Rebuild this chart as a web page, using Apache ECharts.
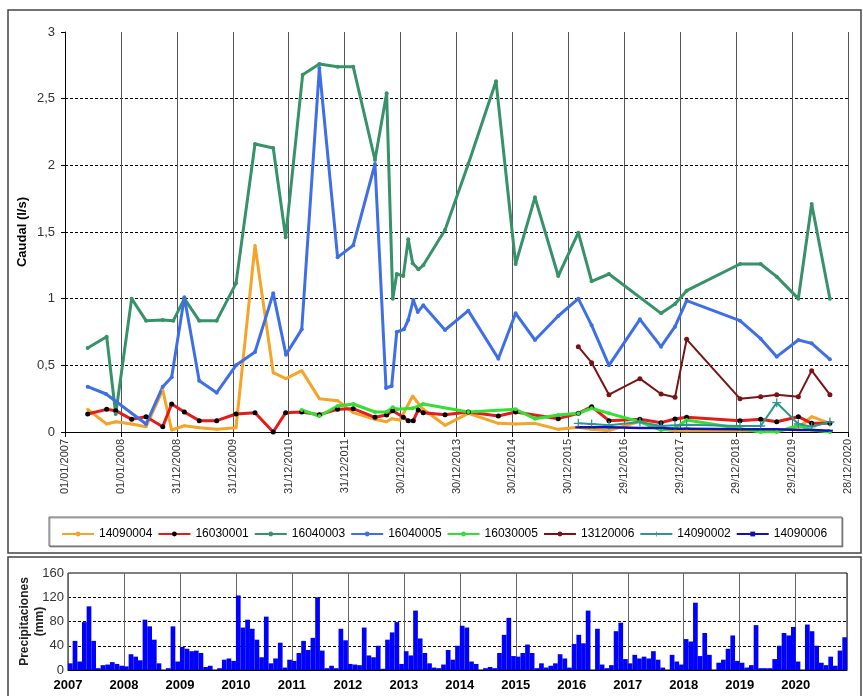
<!DOCTYPE html>
<html><head><meta charset="utf-8">
<script src="https://cdn.jsdelivr.net/npm/echarts@6/dist/echarts.min.js"></script>
<style>html,body{margin:0;padding:0;background:#fff}#c{width:863px;height:696px}</style>
</head><body><div id="c"></div>
<script>
// ---- Caudal (l/s) series: sampling dates and values ----
const d14090004 = ['2007-05-29','2007-09-30','2007-11-28','2008-03-11','2008-06-13','2008-09-30','2008-11-27','2009-02-18','2009-05-26','2009-09-17','2010-01-21','2010-05-25','2010-09-21','2010-12-13','2011-03-26','2011-07-19','2011-11-15','2012-02-25','2012-07-16','2012-09-30','2012-11-02','2012-12-26','2013-03-19','2013-04-14','2013-05-27','2013-10-16','2014-03-17','2014-09-29','2015-01-20','2015-05-26','2015-10-25','2016-03-04','2016-05-30','2016-09-20','2017-04-10','2017-08-26','2017-11-25','2018-02-09','2019-01-23','2019-06-07','2019-09-20','2020-02-08','2020-05-05','2020-09-01'];
const v14090004 = [0.17,0.06,0.077,0.06,0.04,0.315,0.015,0.047,0.032,0.02,0.032,1.40,0.445,0.40,0.46,0.25,0.235,0.145,0.095,0.077,0.10,0.09,0.27,0.23,0.17,0.05,0.14,0.065,0.06,0.065,0.02,0.035,0.02,0.01,0.08,0.02,0.01,0.01,0.01,0.01,0.01,0.03,0.115,0.065];

const d16030001 = ['2007-05-29','2007-09-30','2007-11-28','2008-03-11','2008-06-13','2008-09-30','2008-11-27','2009-02-18','2009-05-26','2009-09-17','2010-01-21','2010-05-25','2010-09-21','2010-12-11','2011-03-26','2011-07-19','2011-11-15','2012-02-25','2012-07-16','2012-09-30','2012-11-09','2013-01-17','2013-02-18','2013-03-23','2013-04-24','2013-05-27','2013-10-16','2014-03-17','2014-09-29','2015-01-20','2015-10-25','2016-03-04','2016-05-30','2016-09-20','2017-04-10','2017-08-26','2017-11-25','2018-02-09','2019-01-23','2019-06-07','2019-09-20','2020-02-08','2020-05-05','2020-09-01'];
const v16030001 = [0.135,0.17,0.16,0.095,0.115,0.04,0.21,0.15,0.085,0.085,0.135,0.145,0.0,0.145,0.15,0.13,0.17,0.175,0.11,0.128,0.16,0.11,0.085,0.085,0.165,0.145,0.13,0.15,0.12,0.15,0.10,0.14,0.19,0.085,0.095,0.07,0.097,0.11,0.085,0.095,0.077,0.115,0.065,0.065];

const d16040003 = ['2007-05-29','2007-09-30','2007-11-28','2008-03-11','2008-06-13','2008-09-30','2008-12-08','2009-02-18','2009-05-26','2009-09-17','2010-01-21','2010-05-25','2010-09-21','2010-12-11','2011-04-01','2011-07-19','2011-11-15','2012-02-25','2012-07-16','2012-09-30','2012-11-09','2012-12-05','2013-01-17','2013-02-18','2013-03-19','2013-04-25','2013-05-27','2013-10-16','2014-03-17','2014-09-14','2015-01-20','2015-05-26','2015-10-25','2016-03-04','2016-05-30','2016-09-20','2017-08-26','2017-11-25','2018-02-09','2019-01-23','2019-06-07','2019-09-20','2020-02-08','2020-05-05','2020-09-01'];
const v16040003 = [0.63,0.715,0.135,1.0,0.835,0.84,0.835,1.0,0.835,0.835,1.115,2.16,2.13,1.46,2.68,2.76,2.74,2.74,2.04,2.54,1.0,1.185,1.17,1.445,1.265,1.22,1.25,1.515,2.01,2.63,1.26,1.76,1.17,1.495,1.13,1.185,0.89,0.96,1.06,1.26,1.26,1.165,1.0,1.71,1.0];

const d16040005 = ['2007-05-29','2007-09-26','2008-06-13','2008-09-30','2008-11-27','2009-02-18','2009-05-26','2009-09-17','2010-01-21','2010-05-25','2010-09-21','2010-12-13','2011-03-26','2011-07-19','2011-11-15','2012-02-25','2012-07-16','2012-09-26','2012-11-02','2012-12-05','2013-01-21','2013-02-18','2013-03-23','2013-04-21','2013-05-27','2013-10-16','2014-03-17','2014-09-29','2015-01-20','2015-05-26','2015-10-25','2016-03-04','2016-05-30','2016-09-20','2017-04-10','2017-08-26','2017-11-25','2018-02-09','2019-01-23','2019-06-07','2019-09-20','2020-02-08','2020-05-05','2020-09-01'];
const v16040005 = [0.34,0.285,0.06,0.34,0.41,1.01,0.385,0.295,0.50,0.60,1.04,0.58,0.77,2.73,1.31,1.40,2.01,0.33,0.345,0.75,0.77,0.84,0.99,0.90,0.95,0.765,0.91,0.55,0.89,0.69,0.87,1.0,0.80,0.50,0.845,0.64,0.79,0.985,0.835,0.70,0.565,0.69,0.665,0.545];

const d16030005 = ['2011-03-26','2011-07-19','2011-11-15','2012-02-25','2012-07-16','2012-09-30','2012-11-09','2012-12-05','2013-03-19','2013-05-27','2014-03-17','2015-01-20','2015-05-26','2015-10-25','2016-03-04','2016-05-30','2016-09-20','2017-04-10','2017-08-26','2017-11-25','2018-02-09','2019-01-23','2019-06-07','2019-09-20','2020-02-08','2020-05-05','2020-09-01'];
const v16030005 = [0.165,0.12,0.195,0.21,0.15,0.15,0.185,0.17,0.178,0.21,0.15,0.17,0.10,0.128,0.14,0.178,0.14,0.077,0.015,0.027,0.09,0.027,0.0,0.0,0.05,0.015,0.0];

const dLate = ['2016-03-04','2016-05-30','2016-09-20','2017-04-10','2017-08-26','2017-11-25','2018-02-09','2019-01-23','2019-06-07','2019-09-20','2020-02-08','2020-05-05','2020-09-01'];
const v13120006 = [0.64,0.52,0.28,0.40,0.285,0.26,0.695,0.25,0.265,0.28,0.265,0.46,0.28];
const v14090002 = [0.065,0.06,0.05,0.075,0.045,0.05,0.055,0.045,0.045,0.22,0.06,0.04,0.075];
const v14090006 = [0.035,0.035,0.035,0.03,0.03,0.025,0.025,0.02,0.02,0.02,0.015,0.015,0.01];

// ---- Precipitaciones (mm), monthly from Jan 2007 ----
const precipYears = [2007,2008,2009,2010,2011,2012,2013,2014,2015,2016,2017,2018,2019,2020];
const p2007 = [11,48,14,79,105,48,3,8,9,13,10,7];
const p2008 = [6,26,22,16,83,72,50,11,0,3,72,14];
const p2009 = [38,35,31,32,28,5,7,0,3,17,19,15];
const p2010 = [123,70,83,68,50,21,88,11,19,45,4,17];
const p2011 = [15,28,48,33,53,120,32,3,7,3,68,49];
const p2012 = [10,9,8,70,24,21,40,2,50,62,79,10];
const p2013 = [31,24,98,52,28,11,4,3,9,33,17,40];
const p2014 = [73,70,14,10,0,3,5,3,28,58,86,23];
const p2015 = [22,28,42,28,3,11,4,7,11,26,19,4];
const p2016 = [43,58,44,98,0,68,9,3,8,64,78,18];
const p2017 = [11,25,19,22,19,31,17,4,0,25,14,9];
const p2018 = [51,47,111,23,61,25,0,12,17,35,57,15];
const p2019 = [12,4,8,74,3,3,3,18,40,61,57,71];
const p2020 = [14,0,75,64,40,12,8,22,7,32,54];

const yTicksCaudal = [0,0.5,1,1.5,2,2.5,3];
const yTicksPrecip = [0,40,80,120,160];

// ---- helpers ----
const BASE = Date.UTC(2007,0,1), DAY = 86400000;
function toDay(s){const p=s.split('-').map(Number);return (Date.UTC(p[0],p[1]-1,p[2])-BASE)/DAY;}
function dayLabel(v){const d=new Date(BASE+v*DAY);const dd=String(d.getUTCDate()).padStart(2,'0');const mm=String(d.getUTCMonth()+1).padStart(2,'0');return dd+'/'+mm+'/'+d.getUTCFullYear();}
const FONT = "'Liberation Sans', Arial, sans-serif";
const PLUS = 'path://M4.3,0H5.7V4.3H10V5.7H5.7V10H4.3V5.7H0V4.3H4.3Z';

function mk(name, dates, vals, color, opt){
  return Object.assign({
    name, type:'line', xAxisIndex:0, yAxisIndex:0,
    data: dates.map((d,i)=>[toDay(d), vals[i]]),
    lineStyle:{color, width:3}, itemStyle:{color},
    symbol:'circle', symbolSize:4, showSymbol:true, animation:false
  }, opt||{});
}

const precip = [p2007,p2008,p2009,p2010,p2011,p2012,p2013,p2014,p2015,p2016,p2017,p2018,p2019,p2020];
const precipData = [];
precip.forEach((arr,yi)=>arr.forEach((v,mi)=>precipData.push([yi*12+mi+0.5, v])));
const nMonths = precipData.length;

const series = [
  mk('14090004', d14090004, v14090004, '#F4A428', {symbolSize:3}),
  mk('16030001', d16030001, v16030001, '#E31B1B', {symbolSize:5, itemStyle:{color:'#000'}}),
  mk('16040003', d16040003, v16040003, '#37926A'),
  mk('16040005', d16040005, v16040005, '#3F6FE6'),
  mk('16030005', d16030005, v16030005, '#33E033'),
  mk('13120006', dLate, v13120006, '#7A1414', {lineStyle:{color:'#7A1414', width:2}, symbolSize:5}),
  mk('14090002', dLate, v14090002, '#2E9494', {lineStyle:{color:'#2E9494', width:2}, symbol:PLUS, symbolSize:9}),
  mk('14090006', dLate, v14090006, '#1212B4', {lineStyle:{color:'#1212B4', width:2.5}, symbol:'rect', symbolSize:[6,2]}),
  {name:'Precipitaciones', type:'bar', xAxisIndex:1, yAxisIndex:1, data:precipData, barWidth:4.7,
   itemStyle:{color:'#0000FF'}, animation:false}
];

const chart = echarts.init(document.getElementById('c'), null, {renderer:'canvas'});
chart.setOption({
  animation:false,
  textStyle:{fontFamily:FONT},
  graphic:[
    {type:'rect', shape:{x:8,y:10,width:853,height:543}, style:{fill:'none', stroke:'#444', lineWidth:1.5}, z:-1},
    {type:'rect', shape:{x:8,y:557,width:853,height:150}, style:{fill:'none', stroke:'#444', lineWidth:1.5}, z:-1},
    {type:'rect', shape:{x:49,y:517,width:793,height:29}, style:{fill:'#fff', stroke:'#666', lineWidth:1, shadowColor:'rgba(0,0,0,0.35)', shadowOffsetX:1, shadowOffsetY:1}, z:-1}
  ],
  legend:{
    data:['14090004','16030001','16040003','16040005','16030005','13120006','14090002','14090006'],
    left:61, top:528, padding:0, itemWidth:32, itemHeight:6, itemGap:5,
    textStyle:{fontSize:12, color:'#000', fontFamily:FONT}
  },
  grid:[
    {left:65, right:15, top:32, height:400},
    {left:68, right:16, top:573, height:97, show:true, borderColor:'#000', borderWidth:1}
  ],
  xAxis:[
    {type:'value', gridIndex:0, min:0, max:5110, interval:365,
     axisLine:{show:true, onZero:false, lineStyle:{color:'#000', width:1}},
     axisTick:{show:true, length:5, lineStyle:{color:'#000'}},
     axisLabel:{rotate:90, fontSize:11, color:'#333', margin:7, formatter:dayLabel, fontFamily:FONT},
     splitLine:{show:true, lineStyle:{color:'#555', width:1}}},
    {type:'value', gridIndex:1, min:0, max:nMonths, interval:12,
     axisLine:{show:true, onZero:false, lineStyle:{color:'#000'}},
     axisTick:{show:false},
     axisLabel:{fontSize:13, fontWeight:'bold', color:'#000', margin:9, fontFamily:FONT,
       formatter:v=> (v%12===0 && v/12<precipYears.length) ? String(precipYears[v/12]) : ''},
     splitLine:{show:true, lineStyle:{color:'#666', width:1}}}
  ],
  yAxis:[
    {type:'value', gridIndex:0, min:yTicksCaudal[0], max:yTicksCaudal[yTicksCaudal.length-1], interval:0.5,
     name:'Caudal (l/s)', nameLocation:'middle', nameGap:36, nameMoveOverlap:false,
     nameTextStyle:{fontWeight:'bold', fontSize:13, color:'#000', fontFamily:FONT},
     axisLine:{show:true, lineStyle:{color:'#000'}},
     axisTick:{show:true, length:4, lineStyle:{color:'#000'}},
     axisLabel:{fontSize:13, color:'#333', margin:10, fontFamily:FONT, formatter:v=>String(v).replace('.',',')},
     splitLine:{show:true, showMaxLine:false, lineStyle:{color:'#000', width:1, type:[3,2]}}},
    {type:'value', gridIndex:1, min:yTicksPrecip[0], max:yTicksPrecip[yTicksPrecip.length-1], interval:40,
     name:'Precipitaciones\n(mm)', nameLocation:'middle', nameGap:21, nameMoveOverlap:false,
     nameTextStyle:{fontWeight:'bold', fontSize:12, lineHeight:15, color:'#222', fontFamily:FONT},
     axisLine:{show:false}, axisTick:{show:false},
     axisLabel:{fontSize:13, color:'#333', margin:4, fontFamily:FONT},
     splitLine:{show:true, showMaxLine:false, showMinLine:false, lineStyle:{color:'#000', width:1, type:[3,2]}}}
  ],
  series
});
</script>
</body></html>
